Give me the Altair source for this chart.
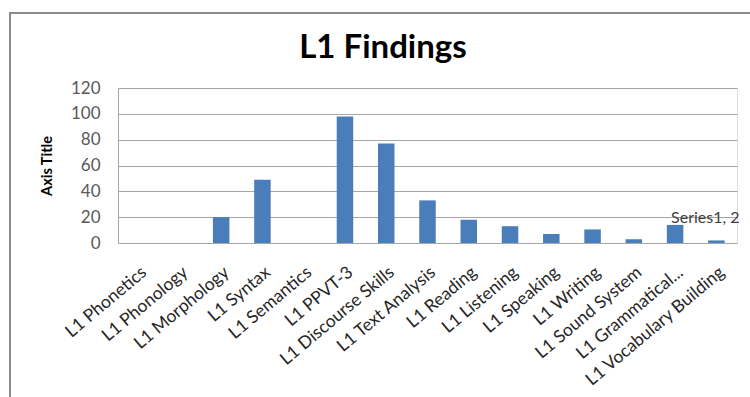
import altair as alt
import pandas as pd

title_text = "L1 Findings"
categories = ["L1 Phonetics", "L1  Phonology", "L1 Morphology", "L1 Syntax", "L1 Semantics",
              "L1 PPVT-3", "L1 Discourse Skills", "L1 Text Analysis", "L1 Reading", "L1 Listening",
              "L1 Speaking", "L1 Writing", "L1 Sound System", "L1 Grammatical...", "L1 Vocabulary Building"]
values = [0, 0, 20, 49, 0, 98, 77, 33, 18, 13, 7, 10.5, 3, 14, 2]
y_ticks = [0, 20, 40, 60, 80, 100, 120]

df = pd.DataFrame({"cat": categories, "val": values})

FONT = "Lato"

x_enc = alt.X("cat:N", sort=categories, title=None,
              scale=alt.Scale(paddingInner=0.6, paddingOuter=0.3),
              axis=alt.Axis(labelAngle=-40, labelFontSize=17.5, labelFont=FONT, labelColor="#262626",
                            ticks=False, domain=False, labelPadding=20, labelLimit=300))
y_axis = alt.Axis(values=y_ticks, tickCount=7, labelOverlap=False, labelFontSize=17, labelFont=FONT,
                  labelColor="#595959", ticks=False, domain=True, domainColor="#a6a6a6",
                  gridColor="#a6a6a6", labelPadding=18, titleFont=FONT, titleFontSize=14.5,
                  titleFontWeight="bold", titleColor="#000000", titlePadding=16)
y_enc = alt.Y("val:Q", title="Axis Title", scale=alt.Scale(domain=[0, 120], nice=False), axis=y_axis)

bars = alt.Chart(df).mark_bar(color="#4a7ebb").encode(x=x_enc, y=y_enc)

lab_df = pd.DataFrame({"cat": ["L1 Grammatical..."], "val": [14], "txt": ["Series1, 2"]})
label = alt.Chart(lab_df).mark_text(align="left", baseline="alphabetic", dx=-4, dy=-2,
                                    font=FONT, fontSize=16, color="#404040").encode(
    x=x_enc, y=y_enc, text="txt:N")

title_df = pd.DataFrame({"t": [title_text]})
title = alt.Chart(title_df).mark_text(align="center", baseline="alphabetic", font=FONT, fontSize=33,
                                      fontWeight="bold", color="#000000").encode(
    x=alt.value(265), y=alt.value(-30), text="t:N")

frame = alt.Chart(lab_df).mark_rect(fill=None, stroke="#8c8c8c", strokeWidth=2).encode(
    x=alt.value(-108), y=alt.value(-75), x2=alt.value(700), y2=alt.value(400))

chart = alt.layer(frame, bars, label, title).properties(
    width=619, height=155,
    padding={"left": 118, "top": 88, "right": 13, "bottom": 154},
    autosize=alt.AutoSizeParams(type="none"),
).configure_view(stroke=None).configure(background="white")

chart.save("out.html", embed_options={"renderer": "svg", "actions": False})
